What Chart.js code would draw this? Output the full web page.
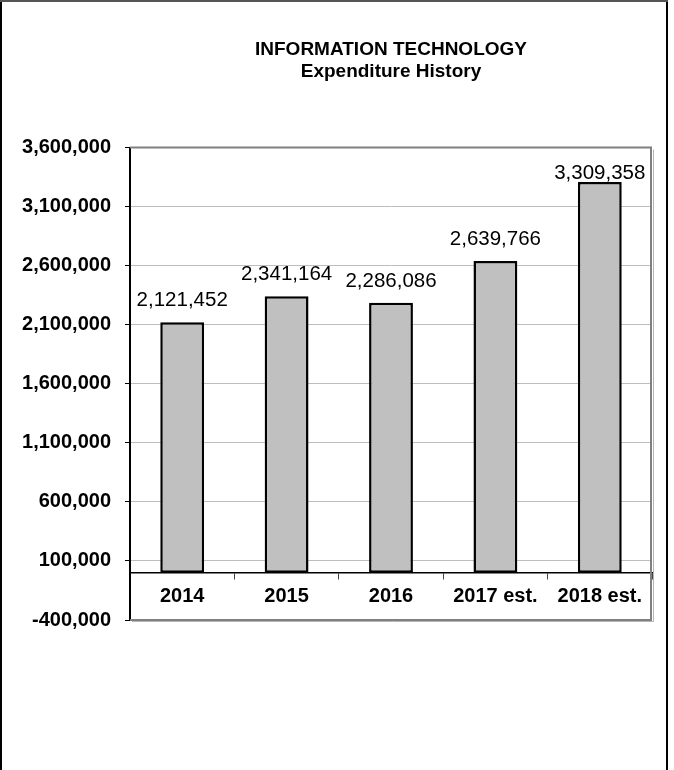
<!DOCTYPE html>
<html>
<head>
<meta charset="utf-8">
<title>Information Technology - Expenditure History</title>
<script src="https://cdn.jsdelivr.net/npm/chart.js@4.4.1/dist/chart.umd.min.js"></script>
<style>
  html, body { margin: 0; padding: 0; background: #fff; }
  canvas { display: block; }
</style>
</head>
<body>
<canvas id="itChart" width="674" height="770"></canvas>
<script>
const years = ['2014', '2015', '2016', '2017 est.', '2018 est.'];
const expenditure = [2121452, 2341164, 2286086, 2639766, 3309358];
const yTicks = [-400000, 100000, 600000, 1100000, 1600000, 2100000, 2600000, 3100000, 3600000];

const FONT = 'Arial, "Liberation Sans", sans-serif';

function fmt(v) {
    return v.toLocaleString('en-US');
}

// outer page frame plus the grey box round the plot
const framePlugin = {
    id: 'frame',
    beforeDraw(chart) {
        const ctx = chart.ctx;
        ctx.save();
        ctx.fillStyle = '#000';
        ctx.fillRect(0, 0, 2, chart.height);
        ctx.fillRect(666, 0, 2, chart.height);
        ctx.fillStyle = '#555';
        ctx.fillRect(0, 0, 668, 2);
        ctx.restore();
    },
    afterDraw(chart) {
        const a = chart.chartArea;
        const ctx = chart.ctx;
        ctx.save();
        ctx.strokeStyle = '#b4b4b4';
        ctx.lineWidth = 1;
        ctx.beginPath();
        ctx.moveTo(a.left + 2, a.bottom + 1.5);
        ctx.lineTo(a.right + 1.5, a.bottom + 1.5);
        ctx.lineTo(a.right + 1.5, a.top + 2);
        ctx.stroke();
        ctx.strokeStyle = '#808080';
        ctx.lineWidth = 2;
        ctx.beginPath();
        ctx.moveTo(a.left, a.top);
        ctx.lineTo(a.right - 1, a.top);
        ctx.lineTo(a.right - 1, a.bottom);
        ctx.lineTo(a.left, a.bottom);
        ctx.stroke();
        ctx.restore();
    }
};

// value written above each bar
const valueLabels = {
    id: 'valueLabels',
    afterDatasetsDraw(chart) {
        const ctx = chart.ctx;
        const meta = chart.getDatasetMeta(0);
        const top = chart.chartArea.top;
        ctx.save();
        ctx.font = '20.5px ' + FONT;
        ctx.fillStyle = '#000';
        ctx.textAlign = 'center';
        ctx.textBaseline = 'alphabetic';
        meta.data.forEach((bar, i) => {
            const y = Math.max(bar.y - 16, top + 31);
            ctx.fillText(fmt(expenditure[i]), bar.x, y);
        });
        ctx.restore();
    }
};

new Chart(document.getElementById('itChart'), {
    type: 'bar',
    data: {
        labels: years,
        datasets: [{
            data: expenditure,
            backgroundColor: '#c0c0c0',
            borderColor: '#000',
            borderWidth: 2.5,
            borderSkipped: false,
            categoryPercentage: 1,
            barPercentage: 0.42
        }]
    },
    options: {
        responsive: false,
        animation: false,
        layout: { padding: { top: 0, right: 22, bottom: 150, left: 0 } },
        plugins: {
            legend: { display: false },
            tooltip: { enabled: false },
            title: {
                display: true,
                text: ['INFORMATION TECHNOLOGY', 'Expenditure History'],
                color: '#000',
                fullSize: false,
                font: { family: FONT, size: 19, weight: 'bold', lineHeight: 1.2 },
                padding: { top: 38, bottom: 64 }
            }
        },
        scales: {
            x: {
                position: { y: 0 },
                offset: true,
                grid: {
                    offset: true,
                    drawOnChartArea: false,
                    drawTicks: true,
                    tickLength: 6,
                    color: '#444'
                },
                border: { display: true, color: '#000', width: 1.5 },
                ticks: {
                    color: '#000',
                    padding: 6,
                    maxRotation: 0,
                    autoSkip: false,
                    font: { family: FONT, size: 20, weight: 'bold' }
                }
            },
            y: {
                min: -400000,
                max: 3600000,
                afterBuildTicks(scale) {
                    scale.ticks = yTicks.map(v => ({ value: v }));
                },
                afterFit(scale) {
                    scale.width = 130;
                },
                grid: {
                    color: '#bdbdbd',
                    lineWidth: 1,
                    borderDash: [1, 2],
                    tickBorderDash: [],
                    tickColor: '#000',
                    tickLength: 5
                },
                border: { display: true, color: '#000', width: 2 },
                ticks: {
                    color: '#000',
                    padding: 14,
                    font: { family: FONT, size: 20, weight: 'bold' },
                    callback: v => fmt(v)
                }
            }
        }
    },
    plugins: [framePlugin, valueLabels]
});
</script>
</body>
</html>
